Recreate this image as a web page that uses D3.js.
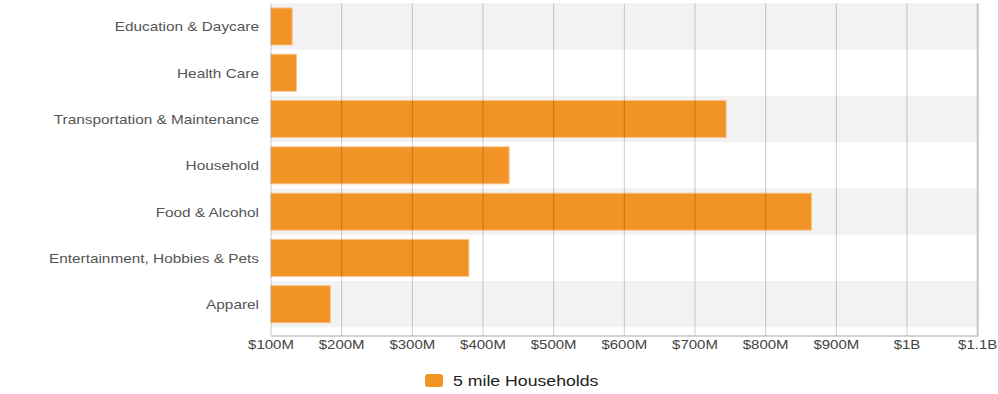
<!DOCTYPE html>
<html>
<head>
<meta charset="utf-8">
<script src="https://d3js.org/d3.v7.min.js"></script>
<style>
  body { margin: 0; background: #fff; }
  text { font-family: "Liberation Sans", Arial, sans-serif; }
</style>
</head>
<body>
<svg id="chart" width="998" height="394"></svg>
<script>
// data
const categories = ["Education & Daycare", "Health Care", "Transportation & Maintenance",
  "Household", "Food & Alcohol", "Entertainment, Hobbies & Pets", "Apparel"];
const values = [130e6, 136e6, 744e6, 437e6, 865e6, 380e6, 184e6];
const tickValues = [100e6, 200e6, 300e6, 400e6, 500e6, 600e6, 700e6, 800e6, 900e6, 1000e6, 1100e6];
const tickLabels = ["$100M", "$200M", "$300M", "$400M", "$500M", "$600M", "$700M",
  "$800M", "$900M", "$1B", "$1.1B"];
const seriesName = "5 mile Households";

const svg = d3.select("#chart");
const plotLeft = 271, plotRight = 977.7, plotTop = 3.3, bandBottom = 327.4, axisY = 336;
const stretch = 1.2; // text in the picture is drawn a bit wide

const x = d3.scaleLinear().domain([100e6, 1100e6]).range([plotLeft, plotRight]);
const y = d3.scaleBand().domain(categories).range([plotTop, bandBottom]);
const bw = y.bandwidth();

// alternating row backgrounds
svg.append("g").selectAll("rect")
  .data(categories.filter((d, i) => i % 2 === 0))
  .enter().append("rect")
  .attr("x", plotLeft).attr("width", plotRight - plotLeft)
  .attr("y", d => y(d)).attr("height", bw)
  .attr("fill", "#f2f2f2");

// bars
svg.append("g").selectAll("rect")
  .data(categories)
  .enter().append("rect")
  .attr("x", x(100e6))
  .attr("y", d => y(d) + bw * 0.1)
  .attr("width", (d, i) => x(values[i]) - x(100e6))
  .attr("height", bw * 0.8)
  .attr("fill", "#f29325")
  .attr("stroke", "#f8c692")
  .attr("stroke-width", 1);

// vertical grid lines on top of bars
svg.append("g").selectAll("line")
  .data(tickValues.slice(0, -1))
  .enter().append("line")
  .attr("x1", d => x(d)).attr("x2", d => x(d))
  .attr("y1", plotTop).attr("y2", axisY)
  .attr("stroke", "rgba(0,0,0,0.2)")
  .attr("stroke-width", 1);

// right border and bottom axis line
svg.append("line")
  .attr("x1", plotRight).attr("x2", plotRight).attr("y1", plotTop).attr("y2", axisY)
  .attr("stroke", "#c4c4c4").attr("stroke-width", 2);
svg.append("line")
  .attr("x1", plotLeft).attr("x2", plotRight + 1).attr("y1", axisY).attr("y2", axisY)
  .attr("stroke", "#c4c4c4").attr("stroke-width", 1.5);

// x tick labels
svg.append("g").selectAll("g")
  .data(tickValues)
  .enter().append("g")
  .attr("transform", d => `translate(${x(d)},348.5) scale(${stretch},1)`)
  .append("text")
  .attr("text-anchor", "middle")
  .attr("font-size", "12.5px")
  .attr("fill", "#444")
  .text((d, i) => tickLabels[i]);

// category labels
svg.append("g").selectAll("g")
  .data(categories)
  .enter().append("g")
  .attr("transform", d => `translate(259,${y(d) + bw / 2}) scale(1.22,1)`)
  .append("text")
  .attr("text-anchor", "end")
  .attr("dy", "0.4em")
  .attr("font-size", "12.6px")
  .attr("fill", "#555")
  .text(d => d);

// legend
const legend = svg.append("g");
legend.append("rect")
  .attr("x", 425).attr("y", 374).attr("width", 18).attr("height", 13)
  .attr("rx", 3).attr("fill", "#f29325");
legend.append("g")
  .attr("transform", `translate(453,386) scale(1.22,1)`)
  .append("text")
  .attr("font-size", "14.5px")
  .attr("fill", "#222")
  .text(seriesName);
</script>
</body>
</html>
